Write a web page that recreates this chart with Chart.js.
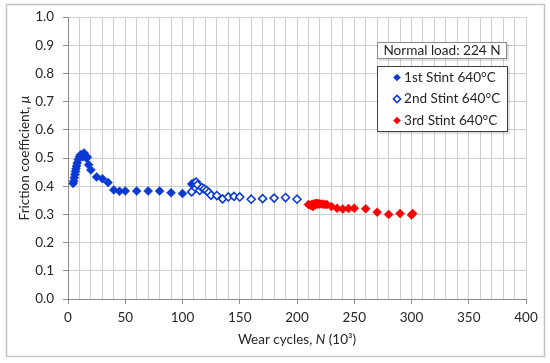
<!DOCTYPE html>
<html><head><meta charset="utf-8">
<script src="https://cdn.jsdelivr.net/npm/chart.js@4.4.1/dist/chart.umd.min.js"></script>
<style>html,body{margin:0;padding:0;background:#fff}canvas{display:block}</style>
</head><body>
<canvas id="c" width="550" height="363"></canvas>
<script>
// ---- data ----
const stint1X = [4.5, 5, 5.5, 6, 6.5, 7, 7.5, 8, 9, 10, 11, 12, 13, 14, 15, 16, 17, 18, 20, 25, 30, 35, 40, 45, 50, 60, 70, 80, 90, 100, 108, 110];
const stint1Y = [0.410, 0.418, 0.430, 0.442, 0.452, 0.462, 0.472, 0.482, 0.495, 0.505, 0.512, 0.510, 0.505, 0.518, 0.508, 0.500, 0.503, 0.476, 0.458, 0.433, 0.427, 0.413, 0.387, 0.382, 0.383, 0.383, 0.383, 0.383, 0.377, 0.374, 0.408, 0.412];
const stint2X = [108, 112, 113, 115, 117, 119, 121, 123, 125, 130, 135, 140, 145, 150, 160, 170, 180, 190, 200];
const stint2Y = [0.380, 0.415, 0.405, 0.385, 0.395, 0.390, 0.385, 0.378, 0.368, 0.367, 0.355, 0.362, 0.364, 0.362, 0.354, 0.356, 0.358, 0.360, 0.354];
const stint3X = [210, 212, 213, 214, 215, 216, 217, 218, 219, 220, 222, 224, 226, 230, 235, 240, 245, 250, 260, 270, 280, 290, 300, 301];
const stint3Y = [0.335, 0.332, 0.336, 0.328, 0.338, 0.334, 0.340, 0.336, 0.338, 0.337, 0.337, 0.335, 0.335, 0.328, 0.322, 0.319, 0.321, 0.322, 0.320, 0.308, 0.300, 0.303, 0.298, 0.303];
const seriesLabels = ['1st Stint 640°C', '2nd Stint 640°C', '3rd Stint 640°C'];
const noteText = 'Normal load: 224 N';
const xTitleParts = [['Wear cycles, ', false], ['N', true], [' (10³)', false]];
const yTitleParts = [['Friction coefficient, ', false], ['μ', true]];
const xMin = 0, xMax = 400, xLabelStep = 50, xGridStep = 10;
const yMin = 0, yMax = 1.0, yStep = 0.1;

const BLUE = '#0a3ad2', RED = '#ff0000', TXT = '#262626';
const FONT = 'Lato, "Open Sans", sans-serif';

function pts(xs, ys) { return xs.map((x, i) => ({ x: x, y: ys[i] })); }

const decor = {
  id: 'decor',
  beforeDraw(chart) {
    const c = chart.ctx;
    c.save();
    c.fillStyle = '#fff';
    c.fillRect(0, 0, chart.width, chart.height);
    c.strokeStyle = '#c4c4c4';
    c.lineWidth = 1.5;
    c.strokeRect(6.5, 4.5, 538, 352);
    c.restore();
  },
  afterDraw(chart) {
    const c = chart.ctx, a = chart.chartArea;
    c.save();
    c.fillStyle = TXT;
    c.textBaseline = 'middle';
    const drawParts = (parts, size) => {
      let w = 0;
      parts.forEach(p => { c.font = (p[1] ? 'italic ' : '') + size + 'px ' + FONT; w += c.measureText(p[0]).width; });
      let x = -w / 2;
      c.textAlign = 'left';
      parts.forEach(p => { c.font = (p[1] ? 'italic ' : '') + size + 'px ' + FONT; c.fillText(p[0], x, 0); x += c.measureText(p[0]).width; });
    };
    c.save(); c.translate((a.left + a.right) / 2, 340); drawParts(xTitleParts, 13.5); c.restore();
    c.save(); c.translate(25, (a.top + a.bottom) / 2); c.rotate(-Math.PI / 2); drawParts(yTitleParts, 13.5); c.restore();

    // note box
    c.fillStyle = 'rgba(0,0,0,0.12)';
    c.fillRect(379, 44, 130, 17);
    c.fillStyle = '#fff';
    c.fillRect(377, 42, 130, 17);
    c.strokeStyle = '#8a8a8a'; c.lineWidth = 1;
    c.strokeRect(377.5, 42.5, 129, 16);
    c.fillStyle = TXT; c.font = '13.6px ' + FONT; c.textAlign = 'center';
    c.fillText(noteText, 442, 51);

    // legend box
    c.fillStyle = 'rgba(0,0,0,0.12)';
    c.fillRect(379, 68, 131, 66);
    c.fillStyle = '#fff';
    c.fillRect(377, 66, 131, 66);
    c.strokeStyle = '#404040'; c.lineWidth = 1;
    c.strokeRect(377.5, 66.5, 130, 65);
    const rows = [77.5, 99, 120.5];
    chart.data.datasets.forEach((ds, i) => {
      c.fillStyle = ds.backgroundColor; c.strokeStyle = ds.borderColor; c.lineWidth = ds.borderWidth;
      c.beginPath();
      const r = 3.6;
      c.moveTo(397, rows[i] - r); c.lineTo(397 + r, rows[i]); c.lineTo(397, rows[i] + r); c.lineTo(397 - r, rows[i]); c.closePath();
      c.fill(); if (ds.borderWidth) c.stroke();
      c.fillStyle = TXT; c.textAlign = 'left'; c.font = '13.6px ' + FONT;
      c.fillText(ds.label, 404, rows[i]);
    });
    c.restore();
  }
};

new Chart(document.getElementById('c'), {
  type: 'scatter',
  data: {
    datasets: [
      { label: seriesLabels[0], data: pts(stint1X, stint1Y), pointStyle: 'rectRot', pointRadius: 4.5, backgroundColor: BLUE, borderColor: BLUE, borderWidth: 0.5, order: 3 },
      { label: seriesLabels[1], data: pts(stint2X, stint2Y), pointStyle: 'rectRot', pointRadius: 4, backgroundColor: '#ffffff', borderColor: BLUE, borderWidth: 1.6, order: 2 },
      { label: seriesLabels[2], data: pts(stint3X, stint3Y), pointStyle: 'rectRot', pointRadius: 4.5, backgroundColor: RED, borderColor: RED, borderWidth: 0.5, order: 1 }
    ]
  },
  options: {
    responsive: false,
    animation: false,
    devicePixelRatio: 1,
    layout: { padding: { left: 28, top: 16, right: 24, bottom: 34 } },
    plugins: { legend: { display: false }, tooltip: { enabled: false } },
    scales: {
      x: {
        type: 'linear', min: xMin, max: xMax,
        afterFit(s) { s.height = 30; },
        border: { color: '#8c8c8c', width: 1 },
        grid: {
          color: '#cfcfcf', lineWidth: 1, tickLength: 5,
          tickColor: ctx => (ctx.tick && ctx.tick.value % xLabelStep === 0) ? '#8c8c8c' : 'rgba(0,0,0,0)'
        },
        ticks: {
          stepSize: xGridStep, autoSkip: false, maxRotation: 0, padding: 6,
          color: TXT, font: { family: FONT, size: 13.5 },
          callback: v => (v % xLabelStep === 0 ? String(v) : '')
        }
      },
      y: {
        type: 'linear', min: yMin, max: yMax,
        afterFit(s) { s.width = 40; },
        border: { color: '#8c8c8c', width: 1 },
        grid: { color: '#cfcfcf', lineWidth: 1, tickLength: 5, tickColor: '#8c8c8c' },
        ticks: {
          stepSize: yStep, padding: 9, color: TXT, font: { family: FONT, size: 13.5 },
          callback: v => Number(v).toFixed(1)
        }
      }
    }
  },
  plugins: [decor]
});
</script>
</body></html>
